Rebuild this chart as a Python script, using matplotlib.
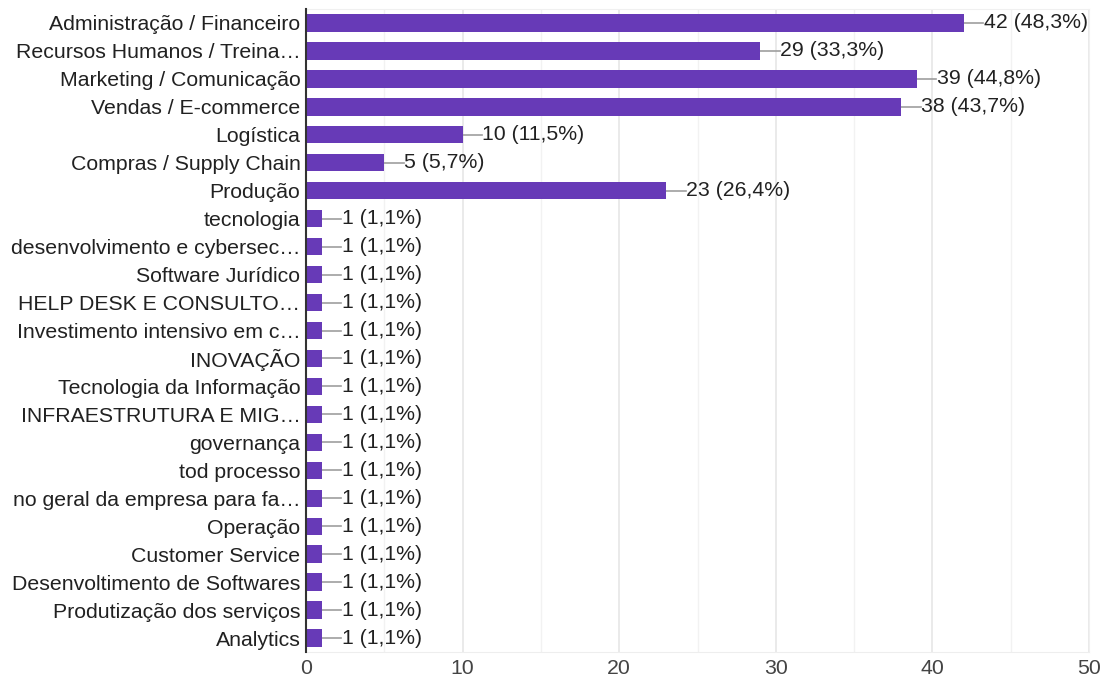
import matplotlib
matplotlib.use("Agg")
import matplotlib.pyplot as plt

categories = [
    "Administração / Financeiro",
    "Recursos Humanos / Treina…",
    "Marketing / Comunicação",
    "Vendas / E-commerce",
    "Logística",
    "Compras / Supply Chain",
    "Produção",
    "tecnologia",
    "desenvolvimento e cybersec…",
    "Software Jurídico",
    "HELP DESK E CONSULTO…",
    "Investimento intensivo em c…",
    "INOVAÇÃO",
    "Tecnologia da Informação",
    "INFRAESTRUTURA E MIG…",
    "governança",
    "tod processo",
    "no geral da empresa para fa…",
    "Operação",
    "Customer Service",
    "Desenvoltimento de Softwares",
    "Produtização dos serviços",
    "Analytics",
]
counts = [42, 29, 39, 38, 10, 5, 23] + [1] * 16
percents = ["48,3", "33,3", "44,8", "43,7", "11,5", "5,7", "26,4"] + ["1,1"] * 16
xticks = [0, 10, 20, 30, 40, 50]

plt.rcParams['font.family'] = ['Liberation Sans', 'DejaVu Sans']
FS = 15.3

fig = plt.figure(figsize=(11.03, 6.83), dpi=100)
W, H = 1103, 683
ax = fig.add_axes([306 / W, (H - 652) / H, (1089 - 306) / W, (652 - 9) / H])

n = len(categories)
ys = list(range(n))
ax.barh(ys, counts, height=0.62, color="#673ab7", zorder=3)

for y, c, p in zip(ys, counts, percents):
    ax.plot([c, c + 1.25], [y, y], color="#9e9e9e", lw=1.2, zorder=2)
    ax.text(c + 1.27, y, f"{c} ({p}%)", va="center", ha="left",
            fontsize=FS, color="#212121", zorder=4)

ax.set_ylim(n - 0.5, -0.5)
ax.set_xlim(0, 50)
ax.set_yticks(ys)
ax.set_yticklabels(categories, fontsize=FS, color="#212121")
ax.set_xticks(xticks)
ax.set_xticklabels([str(t) for t in xticks], fontsize=FS, color="#444444")
ax.set_xticks([5, 15, 25, 35, 45], minor=True)
ax.tick_params(axis="y", length=0, pad=4)
ax.tick_params(axis="x", which="both", length=0, pad=5)
ax.grid(axis="x", which="major", color="#e6e6e6", lw=1.2, zorder=0)
ax.grid(axis="x", which="minor", color="#f2f2f2", lw=1.0, zorder=0)
for s in ["top", "right"]:
    ax.spines[s].set_color("#f0f0f0")
ax.spines["bottom"].set_color("#eeeeee")
ax.spines["left"].set_color("#333333")
ax.spines["left"].set_linewidth(1.5)
ax.spines["left"].set_zorder(5)

fig.savefig("out.png", dpi=100)
